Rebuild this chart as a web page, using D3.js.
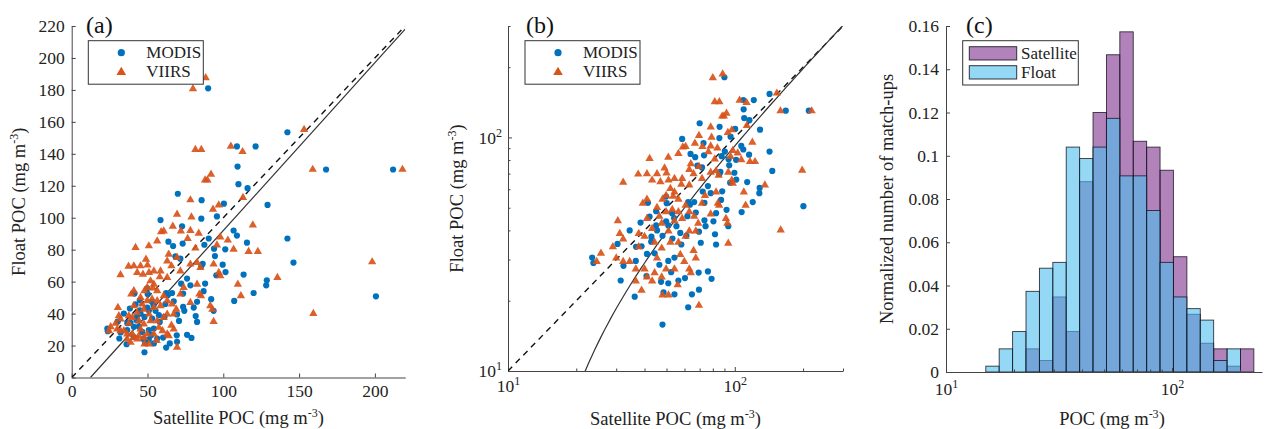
<!DOCTYPE html>
<html>
<head>
<meta charset="utf-8">
<script src="https://cdn.jsdelivr.net/npm/d3@7"></script>
<style>
  body { margin: 0; background: #fff; }
  svg { font-family: "Liberation Serif", "Times New Roman", serif; }
</style>
</head>
<body>
<svg id="chart" width="1269" height="429"></svg>
<script>
// match-up data (satellite POC, float POC) in mg m-3
const modisSat = [90,142.3,109,121.3,109.4,167.8,212,110,116,85.7,100.4,129.2,70,58.6,85.5,95.8,72.8,106.8,109,90.4,142.3,63.8,66.9,73.2,87.5,93.9,101.3,115.6,68.4,71.7,94.5,86.4,85.5,99.6,146.3,101.5,113.4,95.4,88,128.7,128.3,120,107.2,92,93.6,76.1,78.3,73.5,66.2,67.3,62.3,73.5,74.3,80.5,81.8,82.7,70.8,76.1,79,69.5,64.7,62.3,54.2,48,50.9,60.3,58.1,54.2,50.9,53.1,57.5,61.2,55.3,50.9,48,45.4,42.8,41,38.8,36.6,36.2,31.4,34.4,41.4,42.1,45,49.8,23.5,23.8,200.7,45,63.4,61.8,52.4,56.4,30.4,32.3,36.7,38.4,42.9,44.3,46.5,47.3,48.5,40.8,69.3,69.5,49.8,50.1,52.9,54,72.2,82.7,87]
const modisFloat = [181,153.5,144.6,144.6,132,130.2,130.2,121,118.5,111,108.8,108,115,98.5,99.4,100.8,94.6,92,88.8,87,87,85,82.3,83.8,83.1,80.6,80.2,84.4,75.8,74.4,76,71.2,69.8,70.6,71.9,66,64.4,64,58.8,60.8,57.7,52.9,47.9,49,41.7,61.9,57.7,52.5,52.9,47.7,52.9,44.2,41.7,43.75,38.5,34.8,35.4,26.7,24.8,22.3,21.3,18.75,21.3,15.8,23.75,25,34.8,30.6,29.6,36.9,39,37.9,41.7,42,37.9,40,35.8,31.7,34.2,29.6,20.8,24.4,40,52.5,45.8,48.3,43.75,30.6,29,50.8,42,51.5,46,26.5,24.4,35,28.2,34,43.2,37.6,31.9,28.5,24.1,21.7,25.5,26.4,39.5,55.8,52.3,47.4,45.2,58.7,47.4,54]

const viirsSat = [88.4,80,81.6,85.5,105,112.7,153.3,159,218.2,91.9,88,89.5,113,78.3,69.5,79,93.2,97,119.5,103,98,78.3,60.7,59,56.4,66.7,72,83.8,76.5,64,81.6,106.8,116.7,122.8,95.8,42.1,41,45.4,50,43.2,47,51,32.2,39.3,41,49,50.9,63,65.8,69.5,58.6,63,54.2,71.7,78.3,82.7,84.9,93.6,97,98,82.7,84.2,85.3,91.4,92.8,93.6,109.6,111.6,135.7,198.2,159.4,73.9,71.7,78.3,69,66.2,63,60.7,56.4,54.2,53.5,58.1,52,49.8,48,45.4,46.5,49.8,53,56.4,58.6,54.2,51,47.6,43.2,40,41,44.3,47.6,52,56.4,60.7,63,67.3,63,67.3,69.5,54.2,51,48,44.3,41,43.2,47.6,49.8,40,36.6,38.8,36.6,34.4,32.2,30,29,31.1,30.5,37.7,25.7,24.6,32.2,37.7,45.4,57.5,64,59.9,65.8,37.5,56]
const viirsFloat = [188,181,143,143,145,141.7,155.6,130.6,130.6,127.5,124,124,113,111.5,102.5,100.8,105.6,108.3,95.8,86.3,88.3,92.3,92,91.5,85.8,95,92,90.6,87.3,77.5,81.3,80.6,79.2,79.2,83.3,81.7,70.2,70.2,70.8,66,65,66,64.6,52.5,54.6,74.4,82.7,73.3,70.2,75.4,67,62.9,67,67,71.3,72.3,69.2,71.3,66,64,58.75,52.5,51.5,45.2,43.1,35.4,58.75,51.5,62.9,72.7,40.4,56.7,52.5,47.3,43.1,46.25,48.3,51.5,54.6,58.75,56.3,63.3,60.8,56.7,54.6,50.4,46.25,48.3,49.4,48.3,45.2,44.2,40,43.1,41,37.9,45.2,35.8,33.75,35.8,35.8,37.9,40,40,27.5,30.6,19.2,27.5,21.25,21.25,26.5,25.4,24.4,25.4,27.5,27.5,27.5,22.3,24.4,29.6,29.6,30.6,34.2,39,44.2,34.2,32.1,29.6,36.9,39,30.6,31.7,26.5,29.6,33,70,23.5]

// histogram of POC (log bins), normalized number of match-ups
const binEdges = [15.0,17.19,19.71,22.59,25.9,29.69,34.03,39.01,44.72,51.26,58.75,67.35,77.21,88.5,101.4,116.3,133.3,152.8,175.2,200.8,230.1]
const satelliteFrac = [0,0,0,0.0107,0.0053,0.0347,0.0187,0.088,0.12,0.1467,0.1573,0.1067,0.104,0.0933,0.0533,0.0267,0.0133,0.0107,0.0027,0.0107]
const floatFrac = [0.0027,0.0107,0.0187,0.0373,0.048,0.0507,0.104,0.0987,0.104,0.1173,0.0907,0.0907,0.0747,0.0507,0.0347,0.0293,0.024,0.0053,0.0107,0]

const linTicksA = [0,50,100,150,200]
const linTicksAy = [0,20,40,60,80,100,120,140,160,180,200,220]
const logTicksB = [10,20,30,40,50,60,70,80,90,100,200,300]
const logTicksC = [10,20,30,40,50,60,70,80,90,100,200]
const fracTicks = [0,0.02,0.04,0.06,0.08,0.1,0.12,0.14,0.16]

// fitted line (panel a/b): float = slope * sat + icpt
const slope = 1.05, icpt = -13

const blue = '#0072BD', orange = '#D95319'
const axisCol = '#444'
const tickFont = 17.5, labelFont = 18.5, legendFont = 17

const svg = d3.select('#chart')

const pa = {left: 71.7, top: 26, w: 333.5, h: 351.5}
const pb = {left: 508, top: 26, w: 335, h: 345}
const pc = {left: 946, top: 26, w: 316, h: 346}

const xa = d3.scaleLinear([0, 220], [pa.left, pa.left + pa.w])
const ya = d3.scaleLinear([0, 220], [pa.top + pa.h, pa.top])
const xb = d3.scaleLog([10, 300], [pb.left, pb.left + pb.w])
const yb = d3.scaleLog([10, 300], [pb.top + pb.h, pb.top])
const xc = d3.scaleLog([10, 250], [pc.left, pc.left + pc.w])
const yc = d3.scaleLinear([0, 0.16], [pc.top + pc.h, pc.top])

const isMajor = d => Math.abs(Math.log10(d) - Math.round(Math.log10(d))) < 1e-9

// axis helpers, ticks point inward like matlab
function styleAxis(g) {
  g.attr('font-family', null).attr('font-size', null)
  g.select('.domain').attr('stroke', axisCol)
  g.selectAll('.tick line').attr('stroke', axisCol)
  g.selectAll('.tick text').attr('fill', '#222').attr('font-size', tickFont)
}

function logLabels(g, horizontal) {
  g.selectAll('.tick').each(function (d) {
    const t = d3.select(this).select('text')
    const ln = d3.select(this).select('line')
    t.text(null)
    if (isMajor(d)) {
      t.append('tspan').text('10')
      t.append('tspan').attr('dy', -7).attr('font-size', 12).text(Math.round(Math.log10(d)))
    } else {
      if (horizontal) ln.attr('y2', -2.5); else ln.attr('x2', 2.5)
    }
  })
}

function unitText(g, x, y, prefix, vertical) {
  const t = g.append('text')
    .attr('text-anchor', 'middle')
    .attr('font-size', labelFont)
    .attr('fill', '#222')
  if (vertical) t.attr('transform', `translate(${x},${y}) rotate(-90)`)
  else t.attr('x', x).attr('y', y)
  t.append('tspan').text(prefix + ' (mg m')
  t.append('tspan').attr('dy', -7).attr('font-size', 12).text('-3')
  t.append('tspan').attr('dy', 7).text(')')
}

function panelLetter(x, txt) {
  svg.append('text').attr('x', x).attr('y', 33)
    .attr('font-size', 24).attr('fill', '#111').text(txt)
}

function clip(id, p) {
  svg.append('clipPath').attr('id', id).append('rect')
    .attr('x', p.left).attr('y', p.top).attr('width', p.w).attr('height', p.h)
}

function scatter(g, xs, ys) {
  g.append('g').selectAll('circle')
    .data(modisSat)
    .enter()
    .append('circle')
    .attr('cx', d => xs(d))
    .attr('cy', (d, i) => ys(modisFloat[i]))
    .attr('r', 3.1)
    .attr('fill', blue)

  const tri = d3.symbol(d3.symbolTriangle, 30)
  g.append('g').selectAll('path')
    .data(viirsSat)
    .enter()
    .append('path')
    .attr('d', tri)
    .attr('transform', (d, i) => `translate(${xs(d)},${ys(viirsFloat[i]) + 0.6})`)
    .attr('fill', orange)
    .attr('fill-opacity', 0.92)
}

function scatterLegend(x0, y0) {
  const g = svg.append('g')
  g.append('rect').attr('x', x0).attr('y', y0).attr('width', 115).attr('height', 43.5)
    .attr('fill', '#fff').attr('stroke', '#333').attr('stroke-width', 1)
  g.append('circle').attr('cx', x0 + 33).attr('cy', y0 + 12).attr('r', 3.6).attr('fill', blue)
  g.append('path').attr('d', d3.symbol(d3.symbolTriangle, 40))
    .attr('transform', `translate(${x0 + 33},${y0 + 31.5})`).attr('fill', orange)
  g.append('text').attr('x', x0 + 58).attr('y', y0 + 17.5).attr('font-size', legendFont).attr('fill', '#222').text('MODIS')
  g.append('text').attr('x', x0 + 58).attr('y', y0 + 36.5).attr('font-size', legendFont).attr('fill', '#222').text('VIIRS')
}

// ---------------- panel (a) ----------------
clip('clipA', pa)
const gA = svg.append('g')

gA.append('g')
  .attr('transform', `translate(0,${pa.top + pa.h})`)
  .call(d3.axisBottom(xa).tickValues(linTicksA).tickSizeInner(-4).tickSizeOuter(0).tickPadding(7))
  .call(styleAxis)
gA.append('g')
  .attr('transform', `translate(${pa.left},0)`)
  .call(d3.axisLeft(ya).tickValues(linTicksAy).tickSizeInner(-4).tickSizeOuter(0).tickPadding(7))
  .call(styleAxis)

const linesA = gA.append('g').attr('clip-path', 'url(#clipA)')
linesA.append('line')
  .attr('x1', xa(0)).attr('y1', ya(0)).attr('x2', xa(220)).attr('y2', ya(220))
  .attr('stroke', '#111').attr('stroke-width', 1.4).attr('stroke-dasharray', '6,5')
linesA.append('line')
  .attr('x1', xa(-icpt / slope)).attr('y1', ya(0)).attr('x2', xa(220)).attr('y2', ya(slope * 220 + icpt))
  .attr('stroke', '#333').attr('stroke-width', 1.2)

scatter(gA, xa, ya)
scatterLegend(88.3, 40.7)
panelLetter(86, '(a)')
unitText(svg, xa(110), 424, 'Satellite POC', false)
unitText(svg, 25, pa.top + pa.h / 2, 'Float POC', true)

// ---------------- panel (b) ----------------
clip('clipB', pb)
const gB = svg.append('g')

gB.append('g')
  .attr('transform', `translate(0,${pb.top + pb.h})`)
  .call(d3.axisBottom(xb).tickValues(logTicksB).tickSizeInner(-4).tickSizeOuter(0).tickPadding(9))
  .call(styleAxis)
  .call(g => logLabels(g, true))
gB.append('g')
  .attr('transform', `translate(${pb.left},0)`)
  .call(d3.axisLeft(yb).tickValues(logTicksB).tickSizeInner(-4).tickSizeOuter(0).tickPadding(6))
  .call(styleAxis)
  .call(g => logLabels(g, false))

const linesB = gB.append('g').attr('clip-path', 'url(#clipB)')
linesB.append('line')
  .attr('x1', xb(10)).attr('y1', yb(10)).attr('x2', xb(300)).attr('y2', yb(300))
  .attr('stroke', '#111').attr('stroke-width', 1.4).attr('stroke-dasharray', '6,5')
const fitXs = d3.range(0, 101).map(k => (-icpt / slope + 0.5) * Math.pow(300 / (-icpt / slope + 0.5), k / 100))
linesB.append('path')
  .datum(fitXs)
  .attr('d', d3.line().x(d => xb(d)).y(d => yb(Math.max(slope * d + icpt, 1))))
  .attr('fill', 'none').attr('stroke', '#333').attr('stroke-width', 1.2)

scatter(gB, xb, yb)
scatterLegend(525, 40.7)
panelLetter(526, '(b)')
unitText(svg, pb.left + pb.w / 2, 425, 'Satellite POC', false)
unitText(svg, 463, pb.top + pb.h / 2, 'Float POC', true)

// ---------------- panel (c) ----------------
const gC = svg.append('g')
const purpleFill = 'rgba(126,47,142,0.6)'
const cyanFill = 'rgba(77,190,238,0.6)'
const edge = 'rgba(20,20,30,0.85)'

const bins = satelliteFrac.map((s, i) => ({x0: binEdges[i], x1: binEdges[i + 1], sat: s, flt: floatFrac[i]}))

gC.append('g').selectAll('rect')
  .data(bins.filter(b => b.sat > 0))
  .enter()
  .append('rect')
  .attr('x', d => xc(d.x0))
  .attr('width', d => xc(d.x1) - xc(d.x0))
  .attr('y', d => yc(d.sat))
  .attr('height', d => yc(0) - yc(d.sat))
  .attr('fill', purpleFill).attr('stroke', edge).attr('stroke-width', 0.9)

gC.append('g').selectAll('rect')
  .data(bins.filter(b => b.flt > 0))
  .enter()
  .append('rect')
  .attr('x', d => xc(d.x0))
  .attr('width', d => xc(d.x1) - xc(d.x0))
  .attr('y', d => yc(d.flt))
  .attr('height', d => yc(0) - yc(d.flt))
  .attr('fill', cyanFill).attr('stroke', edge).attr('stroke-width', 0.9)

gC.append('g')
  .attr('transform', `translate(0,${pc.top + pc.h})`)
  .call(d3.axisBottom(xc).tickValues(logTicksC).tickSizeInner(-4).tickSizeOuter(0).tickPadding(11))
  .call(styleAxis)
  .call(g => logLabels(g, true))
gC.append('g')
  .attr('transform', `translate(${pc.left},0)`)
  .call(d3.axisLeft(yc).tickValues(fracTicks).tickFormat(d => d === 0 ? '0' : String(+d.toFixed(2))).tickSizeInner(-4).tickSizeOuter(0).tickPadding(7))
  .call(styleAxis)

// legend (c)
const lc = svg.append('g')
lc.append('rect').attr('x', 962.7).attr('y', 40.7).attr('width', 115.6).attr('height', 44.3)
  .attr('fill', '#fff').attr('stroke', '#333').attr('stroke-width', 1)
lc.append('rect').attr('x', 969.3).attr('y', 46.7).attr('width', 47.4).attr('height', 13.3)
  .attr('fill', purpleFill).attr('stroke', edge)
lc.append('rect').attr('x', 969.3).attr('y', 65.7).attr('width', 47.4).attr('height', 13.3)
  .attr('fill', cyanFill).attr('stroke', edge)
lc.append('text').attr('x', 1021).attr('y', 58.5).attr('font-size', legendFont).attr('fill', '#222').text('Satellite')
lc.append('text').attr('x', 1021).attr('y', 77.5).attr('font-size', legendFont).attr('fill', '#222').text('Float')

panelLetter(966, '(c)')
unitText(svg, 1112, 425, 'POC', false)
svg.append('text')
  .attr('transform', `translate(${893},${pc.top + pc.h / 2}) rotate(-90)`)
  .attr('text-anchor', 'middle').attr('font-size', labelFont).attr('fill', '#222')
  .text('Normalized number of match-ups')
</script>
</body>
</html>
